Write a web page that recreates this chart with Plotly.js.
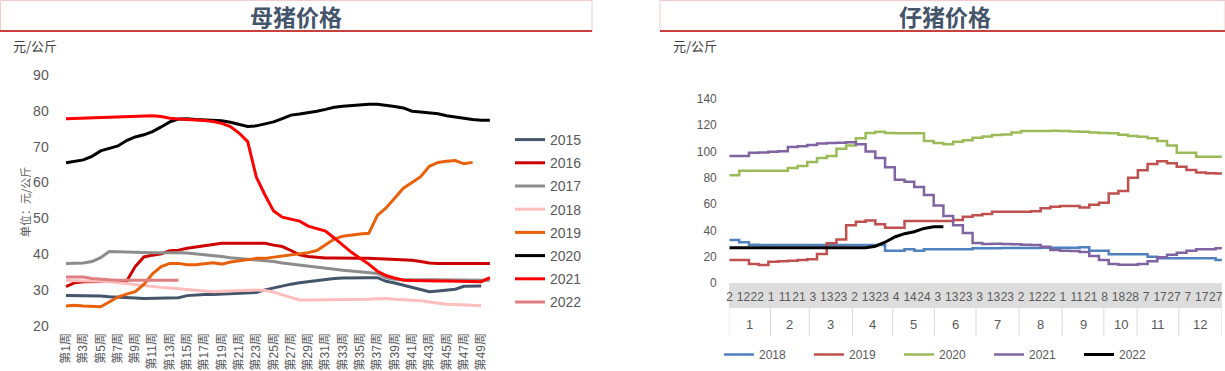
<!DOCTYPE html>
<html><head><meta charset="utf-8">
<script src="https://cdn.plot.ly/plotly-3.0.1.min.js"></script>
<style>html,body{margin:0;padding:0;background:#fff;}#chart{width:1225px;height:371px;}</style>
</head><body><div id="chart"></div>
<script>
const W = 1225, H = 371;
const px = x => x / W, py = y => 1 - y / H;

// ---------- left chart: 母猪价格 ----------
const weeks = ["第1周","第2周","第3周","第4周","第5周","第6周","第7周","第8周","第9周","第10周",
  "第11周","第12周","第13周","第14周","第15周","第16周","第17周","第18周","第19周","第20周",
  "第21周","第22周","第23周","第24周","第25周","第26周","第27周","第28周","第29周","第30周",
  "第31周","第32周","第33周","第34周","第35周","第36周","第37周","第38周","第39周","第40周",
  "第41周","第42周","第43周","第44周","第45周","第46周","第47周","第48周","第49周","第50周"];
const sow2015 = [28.4,28.4,28.4,28.3,28.3,28.1,27.9,27.8,27.7,27.6,27.6,27.6,27.6,27.8,28.4,28.6,28.7,28.7,28.8,28.9,29.0,29.1,29.3,30.0,30.6,31.0,31.6,32.0,32.3,32.7,32.9,33.2,33.3,33.4,33.4,33.4,33.4,32.4,31.9,31.3,30.6,29.9,29.5,29.7,30.0,30.2,31.0,31.1,31.1];
const sow2016 = [30.9,32.0,32.3,32.3,32.3,32.3,32.3,32.4,36.5,39.2,39.7,40.1,40.9,41.1,41.6,41.9,42.3,42.7,43.0,43.0,43.0,43.0,43.0,43.0,42.5,42.1,41.0,39.8,39.3,39.0,38.9,38.9,38.8,38.8,38.8,38.8,38.7,38.7,38.6,38.5,38.3,37.9,37.5,37.4,37.4,37.4,37.4,37.4,37.4,37.4];
const sow2017 = [37.4,37.4,37.5,37.9,39.0,40.7,40.6,40.5,40.4,40.4,40.4,40.4,40.5,40.4,40.3,40.1,39.9,39.6,39.3,39.0,38.8,38.6,38.4,38.1,37.9,37.5,37.2,36.8,36.5,36.3,36.0,35.8,35.5,35.3,35.1,34.9,34.6,33.4,33.0,32.9,32.9,32.8,32.8,32.8,32.8,32.7,32.7,32.7,32.7,32.7];
const sow2018 = [32.6,32.6,32.5,32.4,32.4,32.3,32.0,31.8,31.5,31.2,31.0,30.7,30.5,30.3,30.1,29.9,29.5,29.5,29.6,29.7,29.8,29.9,30.0,29.8,29.4,28.6,27.8,27.2,27.2,27.2,27.2,27.2,27.2,27.3,27.3,27.4,27.5,27.6,27.4,27.3,27.2,27.0,26.6,26.2,26.0,25.9,25.8,25.7,25.6];
const sow2019 = [25.5,25.7,25.5,25.4,25.3,26.6,28.0,28.8,29.5,31.5,34.5,36.5,37.4,37.4,37.0,37.0,37.3,37.6,37.2,37.8,38.1,38.4,38.8,38.8,39.1,39.5,39.8,40.2,40.4,41.0,42.5,44.2,45.0,45.4,45.6,45.8,50.8,52.9,55.5,58.4,60.0,61.6,64.5,65.6,65.9,66.1,65.2,65.6];
const sow2020 = [65.5,65.8,66.3,67.3,68.8,69.5,70.2,71.7,72.7,73.3,74.2,75.5,76.9,77.7,77.8,77.6,77.5,77.4,77.2,76.8,76.2,75.6,75.8,76.3,76.9,77.8,78.8,79.1,79.4,79.9,80.4,81.0,81.3,81.5,81.7,81.8,81.8,81.6,81.2,80.8,79.9,79.7,79.5,79.2,78.6,78.2,78.0,77.6,77.4,77.4];
const sow2021 = [77.8,77.9,78.0,78.1,78.2,78.3,78.4,78.5,78.6,78.7,78.6,78.4,77.9,77.7,77.6,77.5,77.3,77.0,76.5,75.6,73.8,71.4,61.5,56.5,52.0,50.3,49.8,49.2,47.8,47.2,46.4,44.5,42.5,40.5,38.8,37.2,35.2,34.0,33.3,32.7,32.6,32.5,32.5,32.5,32.5,32.5,32.4,32.3,32.3,33.4];
const sow2022 = [33.6,33.6,33.6,33.2,32.9,32.8,32.7,32.7,32.7,32.7,32.7,32.7,32.7,32.7];
const sowYears = ["2015","2016","2017","2018","2019","2020","2021","2022"];
const sowData = [sow2015,sow2016,sow2017,sow2018,sow2019,sow2020,sow2021,sow2022];
const sowColors = ["#44546A","#CC0000","#8C8C8C","#FFBDBD","#E8600A","#000000","#FF0000","#DE7E7E"];

// ---------- right chart: 仔猪价格 ----------
const months = ["1","2","3","4","5","6","7","8","9","10","11","12"];
const monthDays = [30,28,31,29,30,30,31,31,30,24,30,31];
const dayLabels = ["2","12","22","1","11","21","3","13","23","2","13","23","4","14","24","3","13","23",
  "3","13","23","2","12","22","1","11","21","8","18","28","7","17","27","7","17","27"];
const STEP = 7; // one reading per 7 trading days
const pig2018 = [32.7,30.9,29,28.9,28.9,28.9,28.9,28.9,28.9,28.9,28.9,28.9,28.9,28.9,28.9,28.9,24.6,24.6,25.6,24.6,25.6,25.6,25.6,25.6,25.6,26.4,26.5,26.5,26.6,26.6,26.7,26.7,26.8,26.8,26.9,26.9,27.1,24.6,24.6,21.8,21.8,21.8,21.8,20,18.8,18.8,18.8,18.8,18.8,18.8,17.5,17.5];
const pig2019 = [17.5,17.5,14.5,13.7,16.2,16.5,17,17.5,18,22,30.2,33,44,46.5,47.5,44.6,42,42,47.1,47.1,47.1,47.1,47.1,48,50.4,51.5,52.5,54.2,54.2,54.2,54.2,54.5,56.8,58,58.6,58.6,57.5,59.5,61,68,70,80,85.7,90.5,92.5,91,88.4,86,84,83.5,83.2,82.1];
const pig2020 = [82,85.4,85.4,85.4,85.4,85.4,87.5,89,92,95,96.5,102,104.5,110,114,115,114,113.8,113.8,113.8,108,106.5,105.5,107.5,108.5,110.5,111.5,112.5,113,114.5,115.5,115.5,115.6,115.8,115.6,115.2,115,114.5,114,113.8,112.8,111.8,111.3,110,108,104.5,99,99.1,96,96,96,96];
const pig2021 = [96.6,96.6,99,99.3,99.8,100.2,103.4,104,104.9,106,106.5,106.7,107,105.5,100,95,88,78.5,77,73,67,59,51,44,38,30.5,29.7,29.8,29.7,29.4,29.0,28.9,27.5,25,24.6,24.3,23.5,20.5,17.5,14.5,13.8,13.8,14.5,16.5,19.5,21.5,23,24.5,25.6,25.6,26.5,27];
const pig2022 = [26.9,26.9,26.8,26.8,26.7,26.7,26.6,26.6,26.5,26.5,26.4,26.4,26.4,26.5,26.8,28,31,35,37.5,39,41.5,42.7,42.8];
const pigYears = ["2018","2019","2020","2021","2022"];
const pigData = [pig2018,pig2019,pig2020,pig2021,pig2022];
const pigColors = ["#4F81BD","#C0504D","#9BBB59","#8064A2","#000000"];

const NUM = "Liberation Sans, Arial, Noto Sans CJK SC, sans-serif";
const CJK = "Noto Sans CJK SC, sans-serif";
const GREY = "#595959";

const traces = [];
sowYears.forEach((yr, k) => {
  traces.push({type:'scatter', mode:'lines', name:yr, x:weeks.slice(0, sowData[k].length), y:sowData[k],
    xaxis:'x', yaxis:'y', legend:'legend', legendgroup:'s'+yr,
    line:{color:sowColors[k], width:3}, hoverinfo:'skip'});
});
pigYears.forEach((yr, k) => {
  traces.push({type:'scatter', mode:'lines', name:yr, x:pigData[k].map((_, i) => i * STEP), y:pigData[k],
    xaxis:'x2', yaxis:'y2', legend:'legend2',
    line:{color:pigColors[k], width: yr === "2022" ? 3 : 2.5, shape: yr === "2022" ? 'linear' : 'hv'}, hoverinfo:'skip'});
});

const nDays = monthDays.reduce((a, b) => a + b, 0);
const bounds = [-0.5];
monthDays.forEach(d => bounds.push(bounds[bounds.length - 1] + d));

const shapes = [
  {type:'rect', xref:'paper', yref:'paper', x0:px(0.5), x1:px(592), y0:py(31), y1:py(0.5), line:{color:'#F3CACA', width:1}},
  {type:'line', xref:'paper', yref:'paper', x0:px(0), x1:px(592), y0:py(31), y1:py(31), line:{color:'#C9403D', width:2}},
  {type:'rect', xref:'paper', yref:'paper', x0:px(660), x1:px(1225), y0:py(31), y1:py(0.5), line:{color:'#F3CACA', width:1}},
  {type:'line', xref:'paper', yref:'paper', x0:px(660), x1:px(1225), y0:py(31), y1:py(31), line:{color:'#C9403D', width:2}},
  {type:'rect', xref:'x2', yref:'paper', x0:-0.5, x1:nDays - 0.5, y0:py(308), y1:py(283), fillcolor:'#DDDDDD', line:{width:0}, layer:'below'}
];
bounds.forEach(b => shapes.push({type:'line', xref:'x2', yref:'paper', x0:b, x1:b, y0:py(336), y1:py(308), line:{color:'#D9D9D9', width:1}}));

const annotations = [
  {text:'母猪价格', xref:'paper', yref:'paper', x:px(296), y:py(16), xanchor:'center', yanchor:'middle', showarrow:false, font:{family:CJK, size:23, color:'#44546A', weight:'bold'}},
  {text:'仔猪价格', xref:'paper', yref:'paper', x:px(945), y:py(16), xanchor:'center', yanchor:'middle', showarrow:false, font:{family:CJK, size:23, color:'#44546A', weight:'bold'}},
  {text:'元/公斤', xref:'paper', yref:'paper', x:px(11), y:py(45), xanchor:'left', yanchor:'middle', showarrow:false, font:{family:CJK, size:13, color:'#404040'}},
  {text:'元/公斤', xref:'paper', yref:'paper', x:px(671), y:py(45), xanchor:'left', yanchor:'middle', showarrow:false, font:{family:CJK, size:13, color:'#404040'}},
  {text:'单位：元/公斤', xref:'paper', yref:'paper', x:px(25), y:py(202), xanchor:'center', yanchor:'middle', textangle:-90, showarrow:false, font:{family:CJK, size:11, color:GREY}}
];
months.forEach((m, i) => annotations.push({text:m, xref:'x2', yref:'paper', x:(bounds[i] + bounds[i + 1]) / 2, y:py(324),
  xanchor:'center', yanchor:'middle', showarrow:false, font:{family:NUM, size:13, color:GREY}}));

const layout = {
  width:W, height:H, margin:{l:0, r:0, t:0, b:0}, paper_bgcolor:'#fff', plot_bgcolor:'rgba(0,0,0,0)',
  showlegend:true,
  xaxis:{domain:[px(61.7), px(494.2)], type:'category', range:[-0.5, 49.5], tickmode:'linear', tick0:0, dtick:2,
    tickangle:-90, showgrid:false, zeroline:false, showline:false, ticks:'', ticklabelstandoff:4,
    tickfont:{family:NUM, size:12, color:GREY}, fixedrange:true},
  yaxis:{domain:[py(325.7), py(75)], range:[20, 90], dtick:10, showgrid:false, zeroline:false, showline:false, ticks:'',
    ticklabelstandoff:12, tickfont:{family:NUM, size:14, color:GREY}, fixedrange:true},
  xaxis2:{domain:[px(728.8), px(1221.9)], type:'linear', range:[-0.5, nDays - 0.5], tickmode:'array',
    tickvals:dayLabels.map((_, i) => i * 10), ticktext:dayLabels, tickangle:0, showgrid:false, zeroline:false,
    showline:false, ticks:'', ticklabelstandoff:5, tickfont:{family:NUM, size:12, color:GREY}, anchor:'y2', fixedrange:true},
  yaxis2:{domain:[py(283), py(98.9)], range:[0, 140], dtick:20, showgrid:false, zeroline:false, showline:false, ticks:'',
    ticklabelstandoff:11, tickfont:{family:NUM, size:12, color:GREY}, anchor:'x2', fixedrange:true},
  legend:{x:px(510), y:py(124), xanchor:'left', yanchor:'top', tracegroupgap:2, bgcolor:'rgba(0,0,0,0)',
    font:{family:NUM, size:14, color:GREY}, traceorder:'grouped'},
  legend2:{orientation:'h', x:px(719), y:py(340), xanchor:'left', yanchor:'top', bgcolor:'rgba(0,0,0,0)',
    font:{family:NUM, size:12, color:GREY}, entrywidth:45},
  shapes, annotations
};

Plotly.newPlot('chart', traces, layout, {staticPlot:true, displayModeBar:false});
</script></body></html>
